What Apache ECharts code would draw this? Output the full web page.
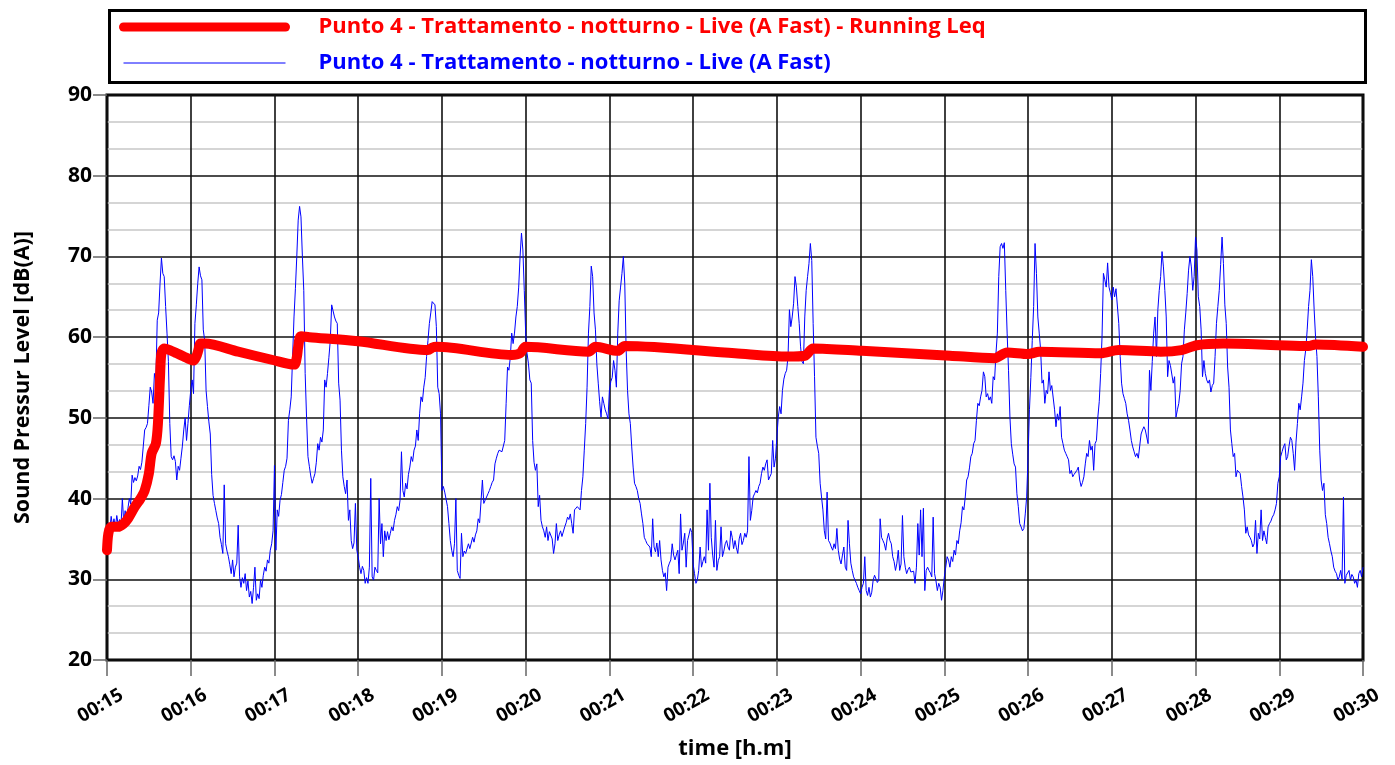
<!DOCTYPE html>
<html>
<head>
<meta charset="utf-8">
<title>Punto 4 - Trattamento - notturno</title>
<script src="https://cdn.jsdelivr.net/npm/echarts@6/dist/echarts.min.js"></script>
<style>
  html, body { margin: 0; padding: 0; background: #ffffff; }
  #chart { width: 1395px; height: 765px; }
</style>
</head>
<body>
<div id="chart"></div>
<script>
// Series names
const liveName = 'Punto 4 - Trattamento - notturno - Live (A Fast)';
const leqName = 'Punto 4 - Trattamento - notturno - Live (A Fast) - Running Leq';

// Start of the measurement (00:15) and the span of the time axis, in seconds
const startMinute = 15;
const spanSeconds = 900;
const tickSeconds = 60;

// Live (A Fast) level, one value per second from 00:15:00 to 00:30:00, dB(A)
const liveStep = 1;
const liveLevels = [
  35.0,37.0,36.2,37.8,36.5,37.5,36.4,37.9,36.8,37.4, 36.6,40.0,37.0,38.5,37.2,38.8,40.0,39.3,42.9,42.0,
  42.6,42.2,42.8,44.0,43.6,44.5,46.5,48.5,48.8,49.3, 51.5,53.8,53.2,51.8,55.5,54.6,62.1,63.0,66.6,69.8,
  67.9,67.5,63.8,60.5,57.0,49.3,45.2,44.8,45.3,44.6, 42.3,44.0,43.5,45.0,46.5,48.5,50.0,47.2,49.3,51.5,
  53.4,54.7,53.0,61.7,64.0,66.6,68.7,67.6,67.1,60.9, 59.6,53.4,51.4,49.5,48.0,43.0,40.4,39.4,38.5,37.6,
  36.9,35.2,34.3,33.2,41.7,34.4,33.5,32.8,31.8,30.7, 32.4,30.3,31.5,32.0,36.7,30.3,29.0,30.2,29.5,30.7,
  28.6,29.8,27.8,28.5,27.0,29.0,31.5,27.4,28.2,27.6, 29.9,29.0,30.5,31.5,31.0,32.4,32.0,33.6,34.4,36.0,
  44.1,33.6,38.6,37.8,39.8,40.5,42.0,43.5,44.0,45.0, 49.7,51.0,52.6,57.6,62.5,66.0,70.0,74.5,76.2,74.9,
  70.0,65.8,55.5,50.0,45.2,44.0,42.8,41.9,42.5,43.1, 44.5,46.8,46.0,47.6,47.0,48.5,54.7,53.8,55.5,57.5,
  59.6,64.0,64.2,62.5,62.0,61.7,54.3,52.2,46.0,42.7, 41.5,40.6,42.3,37.3,38.6,34.8,33.8,34.5,39.4,33.6,
  32.8,31.5,30.7,31.6,31.1,29.5,30.2,29.5,31.5,42.5, 30.3,29.9,31.5,31.1,30.8,40.0,34.4,36.9,32.8,36.0,
  34.8,35.9,34.9,35.7,36.5,36.0,37.3,38.0,39.0,38.5, 39.8,45.8,41.0,40.2,41.9,41.2,43.0,43.9,45.2,44.6,
  46.0,46.5,48.5,47.2,50.5,52.6,52.0,53.8,55.0,57.6, 59.6,61.7,63.0,64.4,64.2,64.0,61.3,53.8,53.0,50.5,
  41.0,41.5,40.8,40.6,39.0,36.9,34.8,33.6,32.8,34.4, 40.0,31.1,30.5,30.1,35.7,32.8,33.5,33.2,33.0,34.4,
  33.8,33.6,35.2,34.6,35.5,36.0,37.5,37.0,36.9,42.3, 39.4,39.8,40.0,40.6,41.0,41.5,42.0,42.3,44.3,45.0,
  45.6,46.0,46.2,45.8,45.6,47.2,51.8,56.3,55.9,57.5, 60.5,59.2,60.5,62.5,63.8,66.2,70.0,72.9,70.8,65.8,
  60.5,58.0,56.7,54.7,54.3,47.2,44.5,43.5,44.3,39.0, 40.4,37.3,36.5,36.0,35.2,36.5,34.8,35.9,36.0,35.0,
  33.2,34.4,36.9,34.8,35.5,36.0,35.3,35.2,36.5,37.0, 37.7,37.4,38.1,36.9,35.7,38.6,38.8,39.0,38.8,38.6,
  41.0,42.7,46.0,49.3,53.8,60.5,63.8,68.8,67.5,63.0, 60.9,56.7,54.3,52.0,50.1,52.6,51.8,51.0,50.5,49.9,
  53.4,54.5,55.0,57.1,55.9,53.8,60.5,64.5,66.2,67.9, 70.0,66.7,58.4,53.4,50.5,49.3,46.4,43.9,41.9,41.5,
  41.0,40.0,39.4,38.1,36.9,35.2,34.8,34.4,34.2,34.0, 32.8,37.5,34.0,33.4,34.5,32.8,34.8,32.4,31.1,30.3,
  30.8,28.6,31.5,32.0,32.4,34.4,33.0,32.4,33.0,33.6, 30.7,38.1,33.6,34.5,35.7,31.5,34.8,35.5,36.3,35.8,
  31.9,30.7,29.5,29.9,31.1,34.0,31.5,32.2,32.8,32.0, 38.6,33.6,41.9,35.2,33.0,31.5,37.3,31.1,32.3,32.8,
  36.5,32.8,33.5,34.4,34.8,34.0,33.6,36.0,35.2,33.8, 34.8,33.9,33.2,35.0,35.7,34.3,34.8,35.7,35.2,36.0,
  45.2,37.3,38.5,40.2,40.6,41.0,40.7,41.5,41.9,43.1, 43.9,43.5,44.3,44.8,42.3,42.7,43.1,47.2,43.9,45.0,
  47.6,50.1,51.4,50.5,53.4,54.8,55.5,55.9,57.6,63.4, 61.3,62.5,64.2,67.5,66.2,63.8,61.7,58.8,57.0,56.7,
  62.5,65.8,67.5,69.1,71.6,69.5,61.7,55.1,47.6,46.5, 45.6,41.9,40.2,38.6,36.0,35.0,40.8,34.8,34.5,34.0,
  33.6,34.4,33.8,36.3,33.6,32.5,31.9,33.0,34.0,31.5, 31.1,37.3,34.4,32.0,31.1,30.3,29.9,29.5,29.0,28.6,
  28.2,29.0,29.5,32.8,28.6,28.0,29.0,27.8,28.4,29.9, 30.5,30.3,29.6,29.9,37.5,35.2,34.8,34.4,33.6,35.0,
  35.7,34.8,34.4,32.8,32.2,31.1,32.0,33.6,31.1,31.9, 37.9,32.8,31.5,30.7,31.2,31.5,30.9,30.7,31.0,29.5,
  31.5,36.9,33.0,38.6,32.8,38.8,28.6,31.1,31.5,31.1, 30.8,30.3,37.7,30.7,29.8,28.6,29.5,29.0,27.4,28.6,
  30.3,31.5,32.8,32.4,31.5,32.8,32.2,33.6,33.0,34.8, 34.4,36.0,37.0,39.0,38.6,40.2,42.3,42.7,43.8,45.2,
  45.6,46.8,47.2,49.7,51.8,51.5,52.6,53.4,55.7,55.1, 52.6,53.0,52.2,52.6,51.8,55.1,54.7,58.0,60.5,67.5,
  71.2,71.6,71.0,71.7,65.8,60.5,55.9,50.1,46.8,45.5, 44.3,43.9,40.6,39.0,36.9,36.5,36.0,36.3,38.1,40.2,
  45.2,51.0,55.0,59.6,63.8,71.6,67.9,62.5,60.5,58.4, 54.3,54.7,51.8,53.4,53.0,55.7,53.4,54.0,53.8,51.0,
  48.9,50.5,49.7,51.4,47.6,46.8,46.0,45.6,45.2,44.8, 43.1,43.5,42.7,43.0,43.1,43.5,43.9,42.3,41.5,42.0,
  42.7,44.3,45.6,45.2,47.2,46.0,46.5,43.5,46.8,47.2, 50.1,52.0,55.5,60.0,67.9,67.1,66.2,69.2,66.2,65.5,
  64.6,66.2,65.0,66.0,65.8,61.7,57.6,54.3,53.0,52.4, 51.8,50.5,49.7,48.5,47.2,46.4,45.8,45.2,45.6,45.0,
  44.8,48.0,48.5,48.9,48.5,48.5,46.8,55.9,53.4,57.0, 60.5,62.5,57.6,63.4,65.8,67.5,70.6,68.7,65.8,62.5,
  55.1,57.1,56.5,56.3,54.3,55.1,50.1,51.0,51.8,53.4, 56.7,57.6,60.9,63.0,65.4,68.3,70.0,68.7,65.8,67.5,
  72.4,70.8,65.0,63.8,60.9,55.1,57.1,55.5,54.7,54.3, 54.7,53.2,54.0,54.3,57.6,61.7,63.8,65.8,69.0,72.4,
  69.1,64.0,61.7,56.3,53.8,48.5,46.8,45.2,45.6,42.7, 43.5,43.5,43.1,41.5,40.2,38.6,35.7,36.5,35.5,35.2,
  34.8,34.0,34.4,37.3,33.2,35.7,35.0,38.6,34.8,36.0, 35.2,34.4,36.5,36.9,37.2,37.7,38.0,38.6,39.4,41.9,
  42.7,45.2,45.8,46.4,46.8,44.8,45.2,46.5,47.6,47.2, 45.6,43.5,47.0,49.3,51.8,51.0,52.6,54.3,57.1,58.5,
  60.9,63.8,65.8,69.6,67.5,63.4,60.0,57.6,52.6,46.0, 42.3,41.0,41.9,38.0,36.9,35.2,34.4,33.5,32.8,31.5,
  31.0,30.7,29.9,30.3,31.1,30.0,40.2,29.5,30.5,30.3, 31.1,29.9,30.6,30.3,29.5,29.9,29.0,30.7,31.1,30.3,
  31.5
];

// Running Leq: seconds from 00:15:00 and the level reached at that time, dB(A)
const leqSeconds = [
  0, 1, 3, 8, 12, 15, 20, 24, 27, 30, 32, 35, 36.5, 38, 39, 41, 45, 50, 55, 60,
  62, 64, 65.5, 67, 70, 94, 118, 134, 136, 137, 139, 145, 180, 230, 233, 236, 290, 296, 300, 345,
  350, 366, 371, 450, 488, 500, 506, 541, 604, 636, 645, 660, 668, 712, 725, 755, 770, 781, 800, 839,
  861, 866, 900
];
const leqLevels = [
  33.6, 35.7, 36.5, 36.5, 36.9, 37.5, 39.0, 40.0, 41.0, 43.1, 45.6, 46.8, 49.3, 55.1, 58.0, 58.6, 58.4, 58.0, 57.6, 57.2,
  57.1, 57.6, 58.4, 59.2, 59.2, 58.2, 57.2, 56.6, 57.5, 58.8, 60.1, 60.0, 59.5, 58.4, 58.7, 58.8, 57.8, 58.0, 58.8, 58.2,
  58.8, 58.3, 58.9, 58.0, 57.6, 57.7, 58.6, 58.3, 57.7, 57.4, 58.1, 57.9, 58.2, 58.0, 58.4, 58.2, 58.4, 59.0, 59.2, 59.0,
  58.9, 59.1, 58.8
];

// Level axis
const levelMin = 20;
const levelMax = 90;
const levelStep = 10;

const liveData = liveLevels.map((v, i) => [i * liveStep, v]);
const leqData = leqSeconds.map((t, i) => [t, leqLevels[i]]);

const font = '"Open Sans", "DejaVu Sans", sans-serif';

const chart = echarts.init(document.getElementById('chart'), null, { renderer: 'canvas' });

chart.setOption({
  animation: false,
  backgroundColor: '#ffffff',
  textStyle: { fontFamily: font },
  graphic: [{
    type: 'rect',
    left: 107, top: 8,
    shape: { width: 1256, height: 72 },
    style: { fill: 'none', stroke: '#000', lineWidth: 3 },
    z: 10
  }],
  legend: {
    orient: 'vertical',
    left: 114, top: 11,
    itemWidth: 162, itemHeight: 26, itemGap: 14,
    selectedMode: false,
    textStyle: { fontFamily: font, fontSize: 22, fontWeight: 'bold', padding: [0, 0, 0, 28] },
    data: [
      { name: leqName, textStyle: { color: '#ff0000' }, lineStyle: { width: 9, cap: 'round' }, itemStyle: { opacity: 0 } },
      { name: liveName, textStyle: { color: '#0000ff' }, lineStyle: { width: 1 }, itemStyle: { opacity: 0 } }
    ]
  },
  grid: {
    left: 107, right: 32, top: 95, bottom: 105,
    show: true, borderColor: '#000', borderWidth: 3
  },
  xAxis: {
    type: 'value',
    min: 0, max: spanSeconds, interval: tickSeconds,
    name: 'time [h.m]',
    nameLocation: 'middle', nameGap: 78,
    nameTextStyle: { fontFamily: font, fontSize: 22, fontWeight: 'bold', color: '#000' },
    axisLine: { show: false },
    axisTick: { show: true, length: 16, lineStyle: { color: '#666', width: 1.5 } },
    axisLabel: {
      rotate: 30, margin: 42, align: 'center', padding: [0, 15, 0, 0],
      fontFamily: font, fontSize: 19, fontWeight: 'bold', color: '#000',
      formatter: v => '00:' + String(startMinute + v / 60).padStart(2, '0')
    },
    splitLine: { show: true, lineStyle: { color: '#111', width: 1.6 } }
  },
  yAxis: {
    type: 'value',
    min: levelMin, max: levelMax, interval: levelStep,
    name: 'Sound Pressur Level [dB(A)]',
    nameLocation: 'middle', nameGap: 73,
    nameTextStyle: { fontFamily: font, fontSize: 21.5, fontWeight: 'bold', color: '#000' },
    axisLine: { show: false },
    axisTick: { show: true, length: 14, lineStyle: { color: '#666', width: 1.5 } },
    axisLabel: { margin: 15, fontFamily: font, fontSize: 21, fontWeight: 'bold', color: '#000' },
    minorTick: { show: false, splitNumber: 3 },
    minorSplitLine: { show: true, lineStyle: { color: '#c8c8c8', width: 1.5 } },
    splitLine: { show: true, lineStyle: { color: '#111', width: 1.6 } }
  },
  series: [
    {
      name: liveName,
      type: 'line',
      data: liveData,
      symbol: 'none',
      z: 4,
      lineStyle: { color: '#0000ff', width: 1 },
      itemStyle: { color: '#0000ff' }
    },
    {
      name: leqName,
      type: 'line',
      data: leqData,
      symbol: 'none',
      smooth: 0.3,
      z: 5,
      lineStyle: { color: '#ff0000', width: 10, cap: 'round', join: 'round' },
      itemStyle: { color: '#ff0000' }
    }
  ]
});
</script>
</body>
</html>
